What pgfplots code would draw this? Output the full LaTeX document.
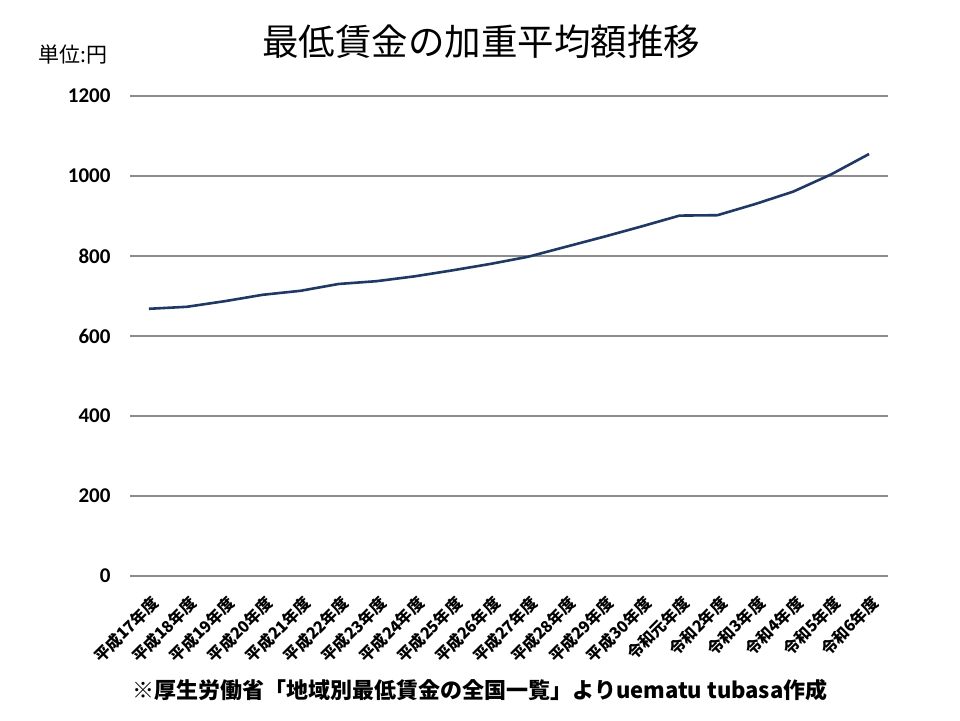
\documentclass[border=0pt]{standalone}
\usepackage{pgfplots}
\pgfplotsset{compat=1.18}
\usepackage{fontspec}
\setmainfont{Noto Sans CJK JP}
\newfontfamily\calibri{Carlito}
\definecolor{navy}{RGB}{31,56,100}
\begin{document}
\begin{tikzpicture}[x=1pt,y=1pt]
\path[fill=white] (0,0) rectangle (960,720);
\begin{axis}[at={(130pt,144pt)}, anchor=south west, scale only axis,
  width=758pt, height=480pt, xmin=-0.5, xmax=19.5, ymin=0, ymax=1200,
  ytick={0,200,...,1200}, xtick={0,...,19},
  xticklabels={平成17年度,平成18年度,平成19年度,平成20年度,平成21年度,平成22年度,平成23年度,平成24年度,平成25年度,平成26年度,平成27年度,平成28年度,平成29年度,平成30年度,令和元年度,令和2年度,令和3年度,令和4年度,令和5年度,令和6年度},
  axis line style={draw=none}, ymajorgrids,
  grid style={draw=black!45, line width=1.2pt},
  major tick length=0pt,
  /pgf/number format/assume math mode=true,
  /pgf/number format/1000 sep={},
  y tick label style={font=\calibri\bfseries\fontsize{21}{21}\selectfont, xshift=-16pt},
  x tick label style={font=\bfseries\fontsize{16}{16}\selectfont, rotate=45, anchor=north east, inner sep=1pt, xshift=-11pt, yshift=-13pt},
  clip=false]
\addplot[color=navy, line width=2.6pt] coordinates {
(0,668) (1,673) (2,687) (3,703) (4,713) (5,730) (6,737) (7,749) (8,764) (9,780)
(10,798) (11,823) (12,848) (13,874) (14,901) (15,902) (16,930) (17,961) (18,1004) (19,1055)};
\end{axis}
\node at (481,678) {\fontsize{36.5}{36.5}\selectfont 最低賃金の加重平均額推移};
\node at (73,665) {\fontsize{21}{21}\selectfont 単位:円};
\node at (480,30) {\bfseries\fontsize{22}{22}\selectfont ※厚生労働省「地域別最低賃金の全国一覧」よりuematu tubasa作成};
\end{tikzpicture}
\end{document}
